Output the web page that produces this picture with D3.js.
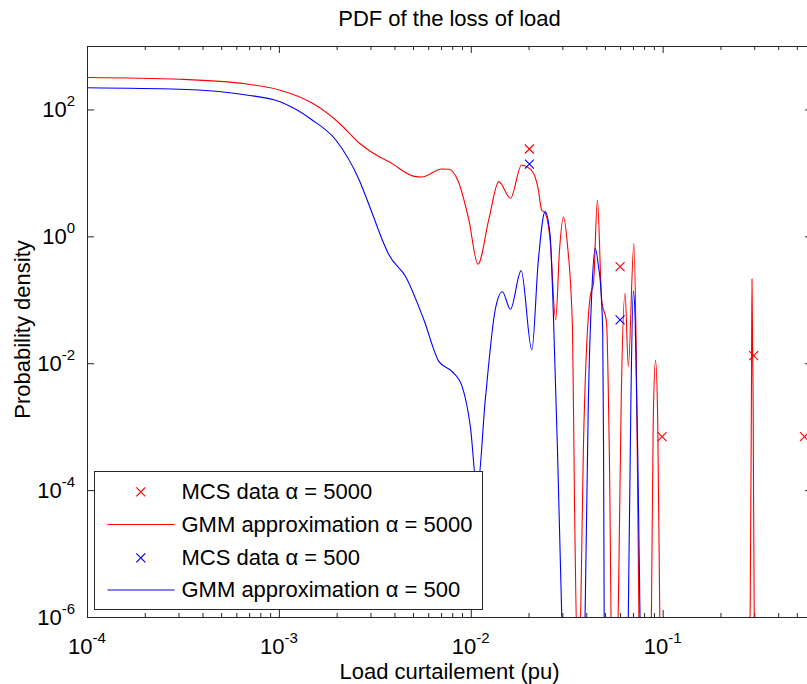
<!DOCTYPE html>
<html>
<head>
<meta charset="utf-8">
<script src="https://cdn.jsdelivr.net/npm/d3@7"></script>
<style>
    body { margin: 0; background: #fff; }
    svg { display: block; font-family: "Liberation Sans", Arial, Helvetica, sans-serif; }
</style>
</head>
<body>
<div id="chart"></div>
<script>
// GMM approximation, alpha = 5000 (red line)
const redX = [1.0e-4, 3.04e-4, 6.76e-4, 1.006e-3, 1.49e-3, 2.06e-3, 2.62e-3, 3.33e-3, 3.75e-3, 5.16e-3,
    5.56e-3, 7.06e-3, 7.69e-3, 8.67e-3, 9.77e-3, 1.09e-2, 1.24e-2, 1.40e-2, 1.61e-2, 1.84e-2,
    1.96e-2, 2.12e-2, 2.25e-2, 2.34e-2, 2.44e-2, 2.59e-2, 2.77e-2, 2.90e-2, 3.04e-2, 3.19e-2,
    3.39e-2, 3.47e-2, 3.64e-2, 3.75e-2, 3.86e-2, 4.19e-2, 4.36e-2, 4.57e-2, 4.81e-2, 5.10e-2,
    5.27e-2, 5.47e-2, 5.66e-2, 5.88e-2, 6.08e-2, 6.37e-2, 6.62e-2, 7.08e-2, 7.28e-2, 7.55e-2,
    7.83e-2, 8.42e-2, 8.75e-2, 8.93e-2, 9.18e-2, 9.42e-2, 9.70e-2, 0.1007, 0.272, 0.286,
    0.290, 0.292, 0.296, 0.300, 0.313, 0.6];
const redY = [319, 299, 252, 203, 126, 61.2, 29.6, 18.0, 15.0, 8.72,
    8.63, 11.5, 11.4, 6.93, 1.81, 0.363, 1.81, 7.27, 3.98, 13.3,
    12.5, 9.97, 5.38, 2.60, 2.33, 0.877, 0.0481, 0.61, 2.02, 0.731,
    0.0334, 6.98e-5, 4.9e-8, 1.85e-6, 4.28e-4, 0.112, 0.184, 3.74, 0.0993, 0.0431,
    4.28e-4, 4.9e-8, 4.9e-8, 1.85e-6, 2.64e-3, 0.126, 8.83e-3, 0.778, 0.0162, 3.0e-7,
    1.3e-9, 1.3e-9, 1.85e-6, 1.27e-3, 0.0112, 1.27e-3, 3.0e-7, 1.3e-9, 1.3e-9, 1.85e-6,
    2.64e-3, 0.213, 2.64e-3, 9e-7, 1.3e-9, 1.3e-9];

// GMM approximation, alpha = 500 (blue line)
const blueX = [1.0e-4, 3.04e-4, 6.76e-4, 1.006e-3, 1.49e-3, 1.98e-3, 2.62e-3, 3.06e-3, 3.46e-3, 3.75e-3,
    4.58e-3, 5.70e-3, 6.83e-3, 8.00e-3, 9.02e-3, 9.95e-3, 1.08e-2, 1.19e-2, 1.34e-2, 1.46e-2,
    1.61e-2, 1.83e-2, 2.08e-2, 2.25e-2, 2.44e-2, 2.59e-2, 2.70e-2, 2.83e-2, 2.98e-2, 3.12e-2,
    3.72e-2, 3.94e-2, 4.10e-2, 4.27e-2, 4.45e-2, 4.62e-2, 4.80e-2, 4.87e-2, 4.92e-2, 4.955e-2,
    5.02e-2, 6.38e-2, 6.62e-2, 6.83e-2, 7.03e-2, 7.19e-2, 7.41e-2, 7.62e-2, 7.93e-2, 0.6];
const blueY = [220, 208, 169, 133, 68.3, 33.0, 7.73, 2.33, 0.877, 0.508,
    0.231, 0.0481, 0.0106, 7.36e-3, 4.27e-3, 1.0e-3, 1.0e-4, 2.64e-3, 0.069, 0.134,
    0.0708, 0.288, 0.0162, 0.424, 2.45, 1.05, 0.0481, 4.28e-4, 1e-6, 1.3e-9,
    1.3e-9, 1e-6, 2.64e-3, 0.126, 0.649, 0.354, 0.0993, 0.030, 4.28e-4, 1e-6,
    1.3e-9, 1.3e-9, 1e-6, 2.64e-3, 0.138, 0.0481, 4.28e-4, 1e-6, 1.3e-9, 1.3e-9];

// MCS data points (crosses)
const mcsRedX = [0.0202, 0.060, 0.0993, 0.298, 0.548];
const mcsRedY = [23.8, 0.333, 6.95e-4, 0.0132, 6.95e-4];
const mcsBlueX = [0.0202, 0.060];
const mcsBlueY = [13.8, 0.0481];

const xTickExps = [-4, -3, -2, -1];
const yTickExps = [-6, -4, -2, 0, 2];
const legendLabels = ["MCS data \u03b1 = 5000", "GMM approximation \u03b1 = 5000",
    "MCS data \u03b1 = 500", "GMM approximation \u03b1 = 500"];

const RED = "#ff0000";
const BLUE = "#0000ff";

class LossChart {
    constructor(parentElement) {
        this.parentElement = parentElement;
        this.initVis();
        this.updateVis();
    }

    initVis() {
        let vis = this;

        vis.margin = { top: 46, right: -5, bottom: 67, left: 87 };
        vis.totalWidth = 807;
        vis.totalHeight = 684;
        vis.width = vis.totalWidth - vis.margin.left - vis.margin.right;
        vis.height = vis.totalHeight - vis.margin.top - vis.margin.bottom;

        vis.root = d3.select("#" + vis.parentElement).append("svg")
            .attr("width", vis.totalWidth)
            .attr("height", vis.totalHeight)
            .style("overflow", "hidden");

        vis.svg = vis.root.append("g")
            .attr("transform", `translate(${vis.margin.left}, ${vis.margin.top})`);

        vis.x = d3.scaleLog().domain([1e-4, 0.6]).range([0, vis.width]);
        vis.y = d3.scaleLog().domain([1e-6, 1e3]).range([vis.height, 0]);

        vis.svg.append("clipPath").attr("id", "plot-clip")
            .append("rect")
            .attr("width", vis.width)
            .attr("height", vis.height);

        // ticks (inward, on all four sides)
        let majorX = xTickExps.map(e => Math.pow(10, e));
        let minorX = [];
        xTickExps.forEach(e => {
            for (let k = 2; k <= 9; k++) {
                let v = k * Math.pow(10, e);
                if (v <= 0.6) minorX.push(v);
            }
        });
        let majorY = yTickExps.map(e => Math.pow(10, e));

        let axisColor = "#262626";
        let addAxis = (axis, transform) => {
            let g = vis.svg.append("g").attr("transform", transform).call(axis);
            g.select(".domain").remove();
            g.selectAll("line").attr("stroke", axisColor);
            g.selectAll("text").remove();
        };

        addAxis(d3.axisBottom(vis.x).tickValues(majorX).tickSize(-7), `translate(0,${vis.height})`);
        addAxis(d3.axisBottom(vis.x).tickValues(minorX).tickSize(-4), `translate(0,${vis.height})`);
        addAxis(d3.axisTop(vis.x).tickValues(majorX).tickSize(-7), "translate(0,0)");
        addAxis(d3.axisTop(vis.x).tickValues(minorX).tickSize(-4), "translate(0,0)");
        addAxis(d3.axisLeft(vis.y).tickValues(majorY).tickSize(-7), "translate(0,0)");
        addAxis(d3.axisRight(vis.y).tickValues(majorY).tickSize(-7), `translate(${vis.width},0)`);

        // box
        vis.svg.append("rect")
            .attr("x", 0.5)
            .attr("y", 0.5)
            .attr("width", vis.width)
            .attr("height", vis.height)
            .attr("fill", "none")
            .attr("stroke", axisColor)
            .attr("stroke-width", 1);

        // tick labels with superscripts
        xTickExps.forEach(e => {
            let t = vis.svg.append("text")
                .attr("x", vis.x(Math.pow(10, e)))
                .attr("y", vis.height + 37)
                .attr("text-anchor", "middle")
                .style("font-size", "22px");
            t.append("tspan").text("10");
            t.append("tspan").attr("dy", -11).style("font-size", "15px").text(e);
        });

        yTickExps.forEach(e => {
            let t = vis.svg.append("text")
                .attr("x", -12)
                .attr("y", vis.y(Math.pow(10, e)) + 8)
                .attr("text-anchor", "end")
                .style("font-size", "22px");
            t.append("tspan").text("10");
            t.append("tspan").attr("dy", -11).style("font-size", "15px").text(e);
        });

        // title and axis labels
        let midX = (812 - vis.margin.left) / 2;
        vis.svg.append("text")
            .attr("x", midX)
            .attr("y", -20)
            .attr("text-anchor", "middle")
            .style("font-size", "22px")
            .text("PDF of the loss of load");

        vis.svg.append("text")
            .attr("x", midX)
            .attr("y", vis.height + 62)
            .attr("text-anchor", "middle")
            .style("font-size", "22px")
            .text("Load curtailement (pu)");

        vis.svg.append("text")
            .attr("transform", "rotate(-90)")
            .attr("x", -(vis.height / 2) + 2)
            .attr("y", -57)
            .attr("text-anchor", "middle")
            .style("font-size", "22px")
            .text("Probability density");

        vis.plot = vis.svg.append("g").attr("clip-path", "url(#plot-clip)");
    }

    updateVis() {
        let vis = this;

        let line = d3.line()
            .x(d => vis.x(d[0]))
            .y(d => vis.y(d[1]))
            .curve(d3.curveMonotoneX);

        let crossPath = "M-4.5,-4.5L4.5,4.5M-4.5,4.5L4.5,-4.5";

        let series = [
            { pts: d3.zip(redX, redY), marks: d3.zip(mcsRedX, mcsRedY), color: RED },
            { pts: d3.zip(blueX, blueY), marks: d3.zip(mcsBlueX, mcsBlueY), color: BLUE }
        ];

        series.forEach(s => {
            vis.plot.selectAll(null)
                .data(s.marks)
                .enter().append("path")
                .attr("transform", d => `translate(${vis.x(d[0])},${vis.y(d[1])})`)
                .attr("d", crossPath)
                .style("stroke", s.color)
                .style("stroke-width", 1.1)
                .style("fill", "none");

            vis.plot.append("path")
                .datum(s.pts)
                .attr("d", line)
                .style("fill", "none")
                .style("stroke", s.color)
                .style("stroke-width", 1.1);
        });

        // legend
        let legendItems = [
            { label: legendLabels[0], color: RED, type: "cross" },
            { label: legendLabels[1], color: RED, type: "line" },
            { label: legendLabels[2], color: BLUE, type: "cross" },
            { label: legendLabels[3], color: BLUE, type: "line" }
        ];
        let rowY = [20, 52.5, 86, 118];

        let lg = vis.root.append("g").attr("transform", "translate(94.5,471.5)");
        lg.append("rect")
            .attr("width", 388)
            .attr("height", 138)
            .style("fill", "#fff")
            .style("stroke", "#262626");

        legendItems.forEach((item, i) => {
            let row = lg.append("g").attr("transform", `translate(0,${rowY[i]})`);
            if (item.type === "cross") {
                row.append("path")
                    .attr("transform", "translate(46.3,0.3)")
                    .attr("d", crossPath)
                    .style("stroke", item.color)
                    .style("stroke-width", 1.2)
                    .style("fill", "none");
            } else {
                row.append("path")
                    .attr("d", "M13,0.5H80")
                    .style("stroke", item.color)
                    .style("stroke-width", 1.1)
                    .style("fill", "none");
            }
            row.append("text")
                .attr("x", 87)
                .attr("y", 7.5)
                .style("font-size", "22px")
                .text(item.label);
        });
    }
}

new LossChart("chart");
</script>
</body>
</html>
